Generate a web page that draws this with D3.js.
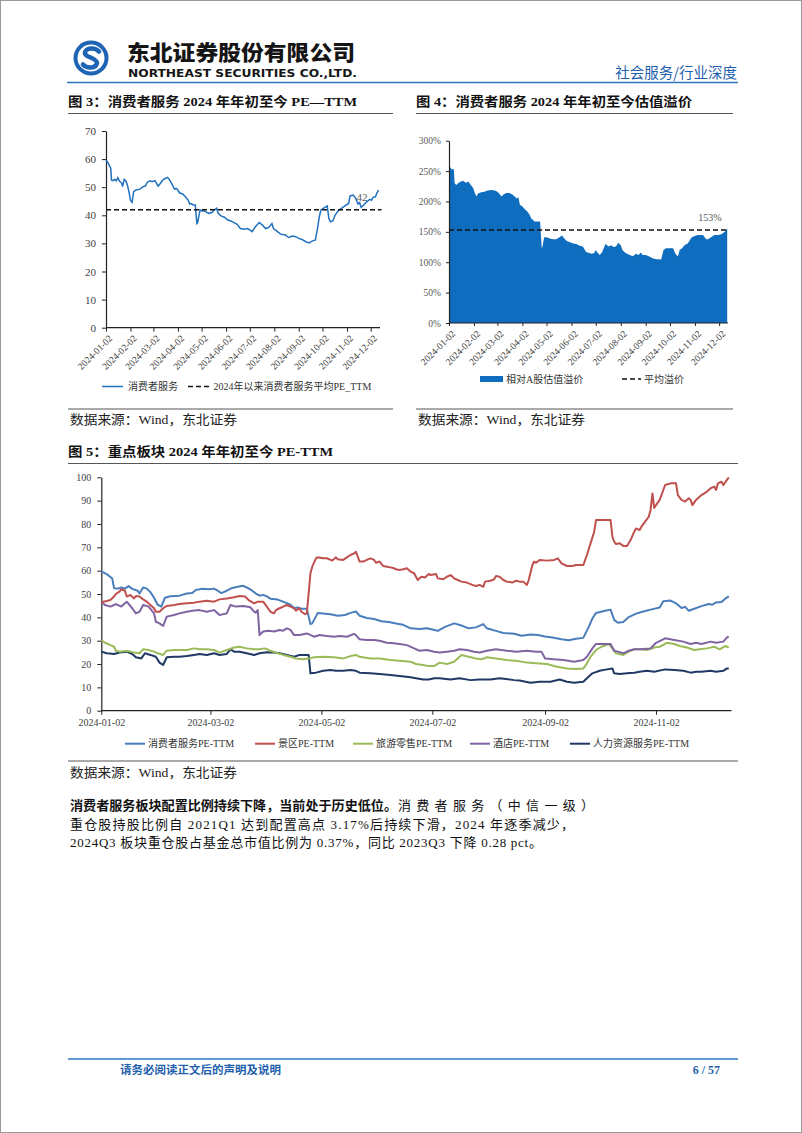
<!DOCTYPE html>
<html><head><meta charset="utf-8">
<script src="https://cdn.jsdelivr.net/npm/d3@7"></script>
<style>body{margin:0;background:#fff}svg{display:block}</style>
</head><body>
<svg id="page" width="802" height="1133"></svg>
<script>
// ---------------- DATA ----------------
// 消费者服务 PE-TTM (图3, 图5 蓝线)
const consumerPE = [["2024-01-02",59.7],["2024-01-05",58.5],["2024-01-07",57.3],["2024-01-08",56.7],["2024-01-09",52.5],["2024-01-11",52.3],["2024-01-13",52.8],["2024-01-15",52.3],["2024-01-17",53.4],["2024-01-19",52.2],["2024-01-22",51.4],["2024-01-23",50.2],["2024-01-25",52.8],["2024-01-27",52.3],["2024-01-29",50.8],["2024-01-31",48.4],["2024-02-02",45.4],["2024-02-04",44.6],["2024-02-06",48.4],["2024-02-09",49.0],["2024-02-14",49.3],["2024-02-18",50.2],["2024-02-21",50.4],["2024-02-23",51.7],["2024-02-26",52.2],["2024-03-01",52.0],["2024-03-04",52.3],["2024-03-06",51.4],["2024-03-08",50.4],["2024-03-11",51.4],["2024-03-14",52.6],["2024-03-17",53.1],["2024-03-20",53.5],["2024-03-22",52.8],["2024-03-25",51.4],["2024-03-27",50.2],["2024-03-29",49.3],["2024-03-31",49.6],["2024-04-02",49.0],["2024-04-04",48.0],["2024-04-08",47.6],["2024-04-12",46.4],["2024-04-15",45.4],["2024-04-17",44.0],["2024-04-19",44.2],["2024-04-21",43.7],["2024-04-24",43.7],["2024-04-26",37.1],["2024-04-27",37.4],["2024-04-30",41.9],["2024-05-03",41.6],["2024-05-07",41.3],["2024-05-11",40.7],["2024-05-15",41.0],["2024-05-18",41.9],["2024-05-21",42.5],["2024-05-23",40.7],["2024-05-27",39.7],["2024-05-31",39.3],["2024-06-04",38.3],["2024-06-08",38.0],["2024-06-12",37.4],["2024-06-16",36.8],["2024-06-20",35.3],["2024-06-25",35.0],["2024-06-29",35.3],["2024-07-02",34.8],["2024-07-05",34.2],["2024-07-09",35.9],["2024-07-14",37.4],["2024-07-18",36.5],["2024-07-22",35.3],["2024-07-26",35.7],["2024-07-30",37.1],["2024-08-01",35.3],["2024-08-06",34.2],["2024-08-10",33.3],["2024-08-16",33.0],["2024-08-20",32.1],["2024-08-25",32.6],["2024-08-29",32.4],["2024-09-02",31.8],["2024-09-06",31.4],["2024-09-11",30.6],["2024-09-15",30.2],["2024-09-19",30.8],["2024-09-23",31.2],["2024-09-26",35.9],["2024-09-28",39.5],["2024-09-30",41.9],["2024-10-05",42.8],["2024-10-08",43.3],["2024-10-10",38.9],["2024-10-12",37.7],["2024-10-15",38.0],["2024-10-18",40.1],["2024-10-22",41.6],["2024-10-26",42.5],["2024-10-30",43.3],["2024-11-04",44.2],["2024-11-06",46.9],["2024-11-10",47.2],["2024-11-13",46.0],["2024-11-16",44.0],["2024-11-18",44.5],["2024-11-20",42.8],["2024-11-23",43.7],["2024-11-27",44.8],["2024-12-01",45.7],["2024-12-03",45.4],["2024-12-05",46.4],["2024-12-08",46.6],["2024-12-10",48.0],["2024-12-12",49.0]];
const consumerAvgPE = 42;

// 相对A股估值溢价 (图4), %
const premium = [["2024-01-02",257],["2024-01-04",256],["2024-01-05",253],["2024-01-08",253],["2024-01-09",230],["2024-01-11",227],["2024-01-14",231],["2024-01-17",233],["2024-01-19",234],["2024-01-23",231],["2024-01-26",233],["2024-01-29",227],["2024-02-01",222],["2024-02-03",214],["2024-02-05",208],["2024-02-07",213],["2024-02-11",215],["2024-02-15",216],["2024-02-19",218],["2024-02-23",219],["2024-02-28",218],["2024-03-02",216],["2024-03-05",212],["2024-03-07",208],["2024-03-10",212],["2024-03-13",214],["2024-03-17",214],["2024-03-21",211],["2024-03-26",205],["2024-03-28",207],["2024-03-30",194],["2024-04-01",193],["2024-04-03",190],["2024-04-05",187],["2024-04-07",185],["2024-04-09",182],["2024-04-11",178],["2024-04-13",172],["2024-04-15",170],["2024-04-17",167],["2024-04-21",167],["2024-04-24",167],["2024-04-26",123],["2024-04-27",126],["2024-04-29",141],["2024-05-02",141],["2024-05-06",139],["2024-05-10",138],["2024-05-14",138],["2024-05-19",142],["2024-05-21",144],["2024-05-24",139],["2024-05-27",135],["2024-05-31",133],["2024-06-04",131],["2024-06-08",130],["2024-06-12",127],["2024-06-16",126],["2024-06-20",117],["2024-06-24",115],["2024-06-27",114],["2024-06-30",115],["2024-07-02",120],["2024-07-04",116],["2024-07-07",112],["2024-07-10",117],["2024-07-14",130],["2024-07-18",126],["2024-07-21",128],["2024-07-24",125],["2024-07-27",126],["2024-07-30",132],["2024-08-02",128],["2024-08-04",120],["2024-08-08",115],["2024-08-13",112],["2024-08-17",110],["2024-08-21",114],["2024-08-24",112],["2024-08-27",116],["2024-08-29",112],["2024-09-02",112],["2024-09-07",109],["2024-09-11",106],["2024-09-15",105],["2024-09-19",105],["2024-09-21",104],["2024-09-24",120],["2024-09-27",123],["2024-10-02",123],["2024-10-06",123],["2024-10-08",116],["2024-10-10",112],["2024-10-12",110],["2024-10-14",120],["2024-10-17",123],["2024-10-20",128],["2024-10-24",131],["2024-10-29",141],["2024-11-02",143],["2024-11-05",145],["2024-11-08",145],["2024-11-12",145],["2024-11-14",141],["2024-11-16",138],["2024-11-18",138],["2024-11-22",141],["2024-11-26",145],["2024-12-01",145],["2024-12-05",146],["2024-12-09",150],["2024-12-12",156]];
const premiumAvg = 153;

// 图5 其他板块
const scenicPE = [["2024-01-02",46.0],["2024-01-03",46.7],["2024-01-05",47.0],["2024-01-07",47.4],["2024-01-09",48.9],["2024-01-10",50.0],["2024-01-12",51.0],["2024-01-13",52.0],["2024-01-15",51.4],["2024-01-16",48.9],["2024-01-18",49.6],["2024-01-20",48.1],["2024-01-21",49.1],["2024-01-23",48.9],["2024-01-25",47.7],["2024-01-27",46.7],["2024-01-29",45.3],["2024-01-31",43.9],["2024-02-01",42.4],["2024-02-03",42.4],["2024-02-05",43.9],["2024-02-07",44.9],["2024-02-11",45.3],["2024-02-14",45.7],["2024-02-18",46.0],["2024-02-22",46.3],["2024-02-25",46.7],["2024-02-29",47.1],["2024-03-04",46.7],["2024-03-07",47.7],["2024-03-11",48.1],["2024-03-15",48.6],["2024-03-18",49.1],["2024-03-21",48.9],["2024-03-23",47.4],["2024-03-26",46.0],["2024-03-28",46.7],["2024-03-31",46.7],["2024-04-02",44.6],["2024-04-04",42.4],["2024-04-06",41.7],["2024-04-07",43.1],["2024-04-09",43.9],["2024-04-11",44.6],["2024-04-13",45.3],["2024-04-15",44.6],["2024-04-17",43.9],["2024-04-18",42.9],["2024-04-20",43.9],["2024-04-21",42.4],["2024-04-23",41.4],["2024-04-24",41.7],["2024-04-26",58.9],["2024-04-27",61.7],["2024-04-29",65.3],["2024-04-30",65.7],["2024-05-03",65.3],["2024-05-05",65.3],["2024-05-08",64.3],["2024-05-10",65.7],["2024-05-11",64.9],["2024-05-14",64.6],["2024-05-16",65.7],["2024-05-18",66.7],["2024-05-20",67.4],["2024-05-21",68.1],["2024-05-23",63.9],["2024-05-25",63.9],["2024-05-27",64.6],["2024-05-29",65.3],["2024-05-31",64.6],["2024-06-01",63.4],["2024-06-03",63.9],["2024-06-05",62.0],["2024-06-07",61.7],["2024-06-09",61.4],["2024-06-11",61.0],["2024-06-12",60.6],["2024-06-14",60.3],["2024-06-16",60.6],["2024-06-18",61.0],["2024-06-20",59.6],["2024-06-22",58.9],["2024-06-23",57.4],["2024-06-24",56.0],["2024-06-26",57.4],["2024-06-28",57.1],["2024-06-30",58.6],["2024-07-01",58.1],["2024-07-04",58.6],["2024-07-05",56.7],["2024-07-08",56.3],["2024-07-10",57.4],["2024-07-12",58.1],["2024-07-14",56.7],["2024-07-16",56.0],["2024-07-18",55.3],["2024-07-21",54.9],["2024-07-24",53.9],["2024-07-26",53.4],["2024-07-28",53.9],["2024-07-30",53.1],["2024-07-31",55.3],["2024-08-03",55.7],["2024-08-05",56.3],["2024-08-06",57.7],["2024-08-08",57.4],["2024-08-10",56.0],["2024-08-12",55.3],["2024-08-15",54.9],["2024-08-17",55.7],["2024-08-19",55.3],["2024-08-21",55.3],["2024-08-23",53.9],["2024-08-24",56.0],["2024-08-26",62.4],["2024-08-27",63.9],["2024-08-28",63.4],["2024-08-30",64.6],["2024-09-03",64.3],["2024-09-07",64.6],["2024-09-09",65.3],["2024-09-11",63.1],["2024-09-14",62.0],["2024-09-17",62.0],["2024-09-19",62.4],["2024-09-23",62.4],["2024-09-25",66.7],["2024-09-27",71.7],["2024-09-29",76.7],["2024-09-30",81.7],["2024-10-04",81.7],["2024-10-08",81.7],["2024-10-09",74.6],["2024-10-10",72.4],["2024-10-11",71.4],["2024-10-13",71.7],["2024-10-15",70.6],["2024-10-17",70.6],["2024-10-19",73.1],["2024-10-21",76.7],["2024-10-22",78.1],["2024-10-24",77.4],["2024-10-25",78.9],["2024-10-27",81.0],["2024-10-29",83.1],["2024-10-30",86.0],["2024-10-31",93.1],["2024-11-01",86.9],["2024-11-02",88.1],["2024-11-04",90.3],["2024-11-07",96.7],["2024-11-10",97.4],["2024-11-13",97.4],["2024-11-14",92.4],["2024-11-16",90.3],["2024-11-18",89.6],["2024-11-20",91.0],["2024-11-21",90.3],["2024-11-22",88.1],["2024-11-24",90.3],["2024-11-27",92.4],["2024-11-30",93.9],["2024-12-02",95.3],["2024-12-04",96.0],["2024-12-05",94.6],["2024-12-06",97.4],["2024-12-08",98.1],["2024-12-09",96.7],["2024-12-11",98.9],["2024-12-12",100.0]];
const travelRetailPE = [["2024-01-02",30.3],["2024-01-04",29.1],["2024-01-07",28.1],["2024-01-09",27.4],["2024-01-10",25.7],["2024-01-12",25.3],["2024-01-16",25.7],["2024-01-20",24.9],["2024-01-23",24.6],["2024-01-25",26.3],["2024-01-28",26.0],["2024-01-31",25.3],["2024-02-02",24.6],["2024-02-05",23.9],["2024-02-07",25.7],["2024-02-11",26.0],["2024-02-14",26.0],["2024-02-18",26.0],["2024-02-22",26.7],["2024-02-25",26.3],["2024-02-29",26.3],["2024-03-04",26.0],["2024-03-07",24.9],["2024-03-11",26.0],["2024-03-15",27.1],["2024-03-18",27.4],["2024-03-22",26.7],["2024-03-26",26.3],["2024-03-29",26.3],["2024-04-01",26.7],["2024-04-04",25.7],["2024-04-07",24.9],["2024-04-11",23.9],["2024-04-15",23.1],["2024-04-18",22.4],["2024-04-22",22.0],["2024-04-25",22.4],["2024-04-28",22.9],["2024-05-03",23.1],["2024-05-09",22.9],["2024-05-14",22.4],["2024-05-18",23.4],["2024-05-21",23.9],["2024-05-23",23.1],["2024-05-29",22.4],["2024-06-03",22.4],["2024-06-09",21.7],["2024-06-14",21.4],["2024-06-20",21.0],["2024-06-23",20.0],["2024-06-27",19.6],["2024-06-30",19.1],["2024-07-03",19.1],["2024-07-06",20.6],["2024-07-10",20.0],["2024-07-14",21.0],["2024-07-18",23.9],["2024-07-22",23.1],["2024-07-26",22.4],["2024-07-29",22.0],["2024-08-01",22.9],["2024-08-06",22.4],["2024-08-12",21.7],["2024-08-17",21.4],["2024-08-23",20.6],["2024-08-28",20.3],["2024-09-03",20.0],["2024-09-08",18.9],["2024-09-14",18.1],["2024-09-19",17.9],["2024-09-23",18.1],["2024-09-25",20.3],["2024-09-27",23.1],["2024-09-30",26.0],["2024-10-03",27.4],["2024-10-07",28.6],["2024-10-09",26.7],["2024-10-11",24.6],["2024-10-15",23.9],["2024-10-18",25.3],["2024-10-21",26.3],["2024-10-24",26.3],["2024-10-28",26.0],["2024-11-01",27.1],["2024-11-04",27.4],["2024-11-08",29.1],["2024-11-12",28.6],["2024-11-15",27.7],["2024-11-19",27.1],["2024-11-23",26.0],["2024-11-26",26.3],["2024-11-30",26.7],["2024-12-04",27.4],["2024-12-07",26.3],["2024-12-10",27.7],["2024-12-12",27.1]];
const hotelPE = [["2024-01-02",46.7],["2024-01-04",45.3],["2024-01-07",44.6],["2024-01-09",45.3],["2024-01-10",45.7],["2024-01-13",44.6],["2024-01-16",46.7],["2024-01-19",43.9],["2024-01-21",41.7],["2024-01-23",42.4],["2024-01-25",45.3],["2024-01-28",44.6],["2024-01-31",41.7],["2024-02-01",38.1],["2024-02-03",37.4],["2024-02-05",36.3],["2024-02-07",40.3],["2024-02-11",41.0],["2024-02-14",41.7],["2024-02-18",42.4],["2024-02-22",42.9],["2024-02-25",43.1],["2024-02-29",42.4],["2024-03-04",43.1],["2024-03-07",41.0],["2024-03-11",41.7],["2024-03-13",45.3],["2024-03-16",44.6],["2024-03-20",44.9],["2024-03-24",44.3],["2024-03-26",42.4],["2024-03-27",42.0],["2024-03-28",43.1],["2024-03-29",32.4],["2024-03-31",33.9],["2024-04-03",34.3],["2024-04-06",33.9],["2024-04-09",34.6],["2024-04-11",34.3],["2024-04-13",35.3],["2024-04-15",34.6],["2024-04-17",32.4],["2024-04-20",32.4],["2024-04-24",33.1],["2024-04-28",31.7],["2024-05-01",32.4],["2024-05-05",32.0],["2024-05-09",31.7],["2024-05-12",32.0],["2024-05-16",31.7],["2024-05-20",32.9],["2024-05-21",32.4],["2024-05-23",30.6],["2024-05-27",30.3],["2024-05-31",30.3],["2024-06-03",30.0],["2024-06-07",29.1],["2024-06-11",28.9],["2024-06-14",28.6],["2024-06-18",28.1],["2024-06-22",26.7],["2024-06-25",25.7],["2024-06-29",26.0],["2024-07-03",25.3],["2024-07-06",24.9],["2024-07-10",25.3],["2024-07-14",25.7],["2024-07-17",26.3],["2024-07-21",26.0],["2024-07-25",25.3],["2024-07-28",24.9],["2024-08-01",25.7],["2024-08-06",26.3],["2024-08-12",25.7],["2024-08-17",25.3],["2024-08-23",25.7],["2024-08-28",25.3],["2024-08-31",25.3],["2024-09-02",22.4],["2024-09-07",22.0],["2024-09-12",21.7],["2024-09-18",21.0],["2024-09-23",21.7],["2024-09-25",23.1],["2024-09-28",26.7],["2024-09-30",28.6],["2024-10-04",28.6],["2024-10-08",28.6],["2024-10-10",25.7],["2024-10-12",25.3],["2024-10-15",24.6],["2024-10-18",25.7],["2024-10-21",26.3],["2024-10-24",26.3],["2024-10-30",26.7],["2024-11-02",29.1],["2024-11-07",31.0],["2024-11-12",30.3],["2024-11-17",29.6],["2024-11-21",28.6],["2024-11-24",29.1],["2024-11-27",28.6],["2024-12-02",29.6],["2024-12-05",29.1],["2024-12-09",29.6],["2024-12-11",31.4],["2024-12-12",31.7]];
const hrServicePE = [["2024-01-02",25.3],["2024-01-05",24.6],["2024-01-09",24.3],["2024-01-12",24.9],["2024-01-16",25.3],["2024-01-19",24.3],["2024-01-21",22.9],["2024-01-24",22.4],["2024-01-26",24.6],["2024-01-29",23.9],["2024-02-01",23.1],["2024-02-03",20.6],["2024-02-05",19.6],["2024-02-07",22.9],["2024-02-11",23.1],["2024-02-14",23.1],["2024-02-18",23.4],["2024-02-22",23.9],["2024-02-25",24.3],["2024-02-29",23.9],["2024-03-04",24.6],["2024-03-07",23.9],["2024-03-11",24.3],["2024-03-13",26.3],["2024-03-15",25.3],["2024-03-18",25.3],["2024-03-22",24.6],["2024-03-26",23.9],["2024-03-29",24.6],["2024-04-02",25.0],["2024-04-06",24.9],["2024-04-09",24.6],["2024-04-13",23.9],["2024-04-17",23.1],["2024-04-20",23.9],["2024-04-25",23.9],["2024-04-26",16.0],["2024-04-29",16.3],["2024-05-03",17.1],["2024-05-07",17.4],["2024-05-10",17.1],["2024-05-14",17.1],["2024-05-18",17.4],["2024-05-21",17.1],["2024-05-23",16.3],["2024-05-29",16.0],["2024-06-03",15.7],["2024-06-09",15.3],["2024-06-14",14.9],["2024-06-20",14.3],["2024-06-23",13.9],["2024-06-27",13.4],["2024-06-30",13.4],["2024-07-03",13.9],["2024-07-06",13.9],["2024-07-12",13.4],["2024-07-17",13.9],["2024-07-23",13.1],["2024-07-28",13.4],["2024-08-03",13.4],["2024-08-08",13.9],["2024-08-16",13.1],["2024-08-19",12.9],["2024-08-25",12.0],["2024-08-30",12.4],["2024-09-05",12.4],["2024-09-10",13.4],["2024-09-14",12.4],["2024-09-18",12.0],["2024-09-23",12.4],["2024-09-25",13.9],["2024-09-28",16.0],["2024-10-02",17.1],["2024-10-06",17.7],["2024-10-09",18.1],["2024-10-10",16.0],["2024-10-13",15.7],["2024-10-17",16.0],["2024-10-21",16.3],["2024-10-24",16.7],["2024-10-28",17.1],["2024-11-01",16.7],["2024-11-07",17.7],["2024-11-12",17.4],["2024-11-17",17.1],["2024-11-21",16.3],["2024-11-24",16.7],["2024-11-27",16.7],["2024-12-02",17.1],["2024-12-05",16.7],["2024-12-09",17.1],["2024-12-11",18.1],["2024-12-12",18.1]];

const monthTicks = ["2024-01-02","2024-02-02","2024-03-02","2024-04-02","2024-05-02","2024-06-02","2024-07-02","2024-08-02","2024-09-02","2024-10-02","2024-11-02","2024-12-02"];
const biMonthTicks = ["2024-01-02","2024-03-02","2024-05-02","2024-07-02","2024-09-02","2024-11-02"];
const peTicks3 = [0,10,20,30,40,50,60,70];
const premiumTicks = [0,50,100,150,200,250,300];
const peTicks5 = [0,10,20,30,40,50,60,70,80,90,100];
const fig5Names = ["消费者服务PE-TTM","景区PE-TTM","旅游零售PE-TTM","酒店PE-TTM","人力资源服务PE-TTM"];
const fig5Colors = ["#4A7EBB","#C0504D","#9BBB59","#8064A2","#1F3864"];

// ---------------- DRAW ----------------
const parse = d3.timeParse("%Y-%m-%d");
const fmt = d3.timeFormat("%Y-%m-%d");
const svg = d3.select("#page");
const SERIF = "'Liberation Serif','Noto Sans CJK SC',serif";
const CJK = "'Noto Sans CJK SC','Liberation Serif',sans-serif";
const BLUE = "#1F5FAD";

svg.append("rect").attr("x",0.5).attr("y",0.5).attr("width",801).attr("height",1132)
  .attr("fill","#fff").attr("stroke","#9a9a9a");

// header logo
const logo = svg.append("g");
logo.append("circle").attr("cx",91).attr("cy",58).attr("r",17.5).attr("fill","#1E64B4");
logo.append("circle").attr("cx",91).attr("cy",58).attr("r",13.5).attr("fill","#fff");
logo.append("path").attr("d","M99,51.5 C95,47 86,47.5 85,52.5 C84,57 97,58 97,63 C96,68.5 87,69 83,64.5")
  .attr("fill","none").attr("stroke","#1E64B4").attr("stroke-width",4.5).attr("stroke-linecap","round");
svg.append("text").attr("x",127).attr("y",59.5).attr("font-family",CJK).attr("font-weight",900)
  .attr("font-size",21).attr("fill","#151515").attr("textLength",228).attr("lengthAdjust","spacingAndGlyphs")
  .text("东北证券股份有限公司");
svg.append("text").attr("x",128).attr("y",76.5).attr("font-family","'DejaVu Sans',sans-serif").attr("font-weight",700)
  .attr("font-size",10).attr("fill","#151515").attr("textLength",229).attr("lengthAdjust","spacingAndGlyphs")
  .text("NORTHEAST SECURITIES CO.,LTD.");
svg.append("text").attr("x",737).attr("y",78).attr("text-anchor","end").attr("font-family",CJK)
  .attr("font-size",14.5).attr("fill",BLUE).text("社会服务/行业深度");
svg.append("line").attr("x1",67).attr("x2",738).attr("y1",82.5).attr("y2",82.5).attr("stroke","#2E75C0").attr("stroke-width",1.6);

// titles
function title(x, y, w, txt, lineEnd){
  svg.append("text").attr("x",x).attr("y",y).attr("font-family",SERIF).attr("font-weight",700)
    .attr("font-size",13).attr("fill","#111").attr("textLength",w).attr("lengthAdjust","spacingAndGlyphs").text(txt);
  svg.append("line").attr("x1",x).attr("x2",lineEnd).attr("y1",y+7.5).attr("y2",y+7.5).attr("stroke","#555").attr("stroke-width",1);
}
title(68,106,289,"图 3：消费者服务 2024 年年初至今 PE—TTM",393);
title(416,106,276,"图 4：消费者服务 2024 年年初至今估值溢价",733);
title(68,456,265,"图 5：重点板块 2024 年年初至今 PE-TTM",738);

function sourceLine(x, y, x2, yl){
  svg.append("line").attr("x1",x).attr("x2",x2).attr("y1",yl).attr("y2",yl).attr("stroke","#555").attr("stroke-width",1);
  svg.append("text").attr("x",x+2).attr("y",y).attr("font-family",SERIF).attr("font-size",13).attr("fill","#222")
    .attr("textLength",167).attr("lengthAdjust","spacingAndGlyphs").text("数据来源：Wind，东北证券");
}
sourceLine(68,424,393,409);
sourceLine(416,424,733,409);
sourceLine(68,777,738,761);

function styleAxis(g, color){
  g.select(".domain").attr("stroke","#222").attr("stroke-width",1.2);
  g.selectAll(".tick line").attr("stroke","#222");
  g.selectAll("text").attr("font-family",SERIF).attr("fill",color);
}

// ---------- Figure 3 ----------
{
  const x = d3.scaleTime().domain([parse("2024-01-02"), parse("2024-12-12")]).range([106, 378.6]);
  const y = d3.scaleLinear().domain([0,70]).range([327.7,131]);
  const gy = svg.append("g").attr("transform","translate(106,0)")
    .call(d3.axisLeft(y).tickValues(peTicks3).tickSize(4).tickSizeOuter(0).tickPadding(6));
  styleAxis(gy,"#404040"); gy.selectAll("text").attr("font-size",11);
  const gx = svg.append("g").attr("transform","translate(0,327.7)")
    .call(d3.axisBottom(x).tickValues(monthTicks.map(parse)).tickFormat(fmt).tickSize(4).tickSizeOuter(0));
  styleAxis(gx,"#404040");
  gx.select(".domain").attr("d","M106,0H380");
  gx.selectAll("text").attr("font-size",9.5).attr("text-anchor","end")
    .attr("transform","translate(2,4) rotate(-45)").attr("dy","0.35em").attr("y",5).attr("x",-2);
  svg.append("path").datum(consumerPE).attr("fill","none").attr("stroke","#2171BF").attr("stroke-width",1.5)
    .attr("d", d3.line().x(d=>x(parse(d[0]))).y(d=>y(d[1])));
  svg.append("line").attr("x1",106).attr("x2",381.5).attr("y1",y(consumerAvgPE)).attr("y2",y(consumerAvgPE))
    .attr("stroke","#111").attr("stroke-width",1.6).attr("stroke-dasharray","5,3");
  svg.append("text").attr("x",362).attr("y",200.5).attr("text-anchor","middle").attr("font-family",SERIF)
    .attr("font-size",11).attr("fill","#595959").text(consumerAvgPE);
  // legend
  const ly = 386.5;
  svg.append("line").attr("x1",102).attr("x2",123).attr("y1",ly).attr("y2",ly).attr("stroke","#2171BF").attr("stroke-width",1.5);
  svg.append("text").attr("x",128).attr("y",ly+3.5).attr("font-family",SERIF).attr("font-size",10).attr("fill","#333").text("消费者服务");
  svg.append("line").attr("x1",188).attr("x2",211.5).attr("y1",ly).attr("y2",ly).attr("stroke","#111").attr("stroke-width",1.6).attr("stroke-dasharray","5,3");
  svg.append("text").attr("x",213.5).attr("y",ly+3.5).attr("font-family",SERIF).attr("font-size",10).attr("fill","#333").text("2024年以来消费者服务平均PE_TTM");
}

// ---------- Figure 4 ----------
{
  const x = d3.scaleTime().domain([parse("2024-01-02"), parse("2024-12-12")]).range([449, 727.2]);
  const y = d3.scaleLinear().domain([0,300]).range([323,140.7]);
  svg.append("path").datum(premium).attr("fill","#0E6DBE")
    .attr("d", d3.area().x(d=>x(parse(d[0]))).y0(y(0)).y1(d=>y(d[1])));
  const gy = svg.append("g").attr("transform","translate(449,0)")
    .call(d3.axisLeft(y).tickValues(premiumTicks).tickFormat(d=>d+"%").tickSize(3).tickSizeOuter(0).tickPadding(5));
  styleAxis(gy,"#595959"); gy.selectAll("text").attr("font-size",9.5);
  const gx = svg.append("g").attr("transform","translate(0,323)")
    .call(d3.axisBottom(x).tickValues(monthTicks.map(parse)).tickFormat(fmt).tickSize(3).tickSizeOuter(0));
  styleAxis(gx,"#404040");
  gx.select(".domain").attr("d","M449,0H728");
  gx.selectAll("text").attr("font-size",9.5).attr("text-anchor","end")
    .attr("transform","translate(2,4) rotate(-45)").attr("dy","0.35em").attr("y",5).attr("x",-2);
  svg.append("line").attr("x1",449).attr("x2",728).attr("y1",y(premiumAvg)).attr("y2",y(premiumAvg))
    .attr("stroke","#111").attr("stroke-width",1.6).attr("stroke-dasharray","5,3");
  svg.append("text").attr("x",710).attr("y",221).attr("text-anchor","middle").attr("font-family",SERIF)
    .attr("font-size",10).attr("fill","#595959").text(premiumAvg+"%");
  const ly = 379;
  svg.append("rect").attr("x",480).attr("y",ly-3).attr("width",23).attr("height",6).attr("fill","#0E6DBE");
  svg.append("text").attr("x",506).attr("y",ly+3.5).attr("font-family",SERIF).attr("font-size",10).attr("fill","#333").text("相对A股估值溢价");
  svg.append("line").attr("x1",622).attr("x2",641).attr("y1",ly).attr("y2",ly).attr("stroke","#111").attr("stroke-width",1.6).attr("stroke-dasharray","5,3");
  svg.append("text").attr("x",644).attr("y",ly+3.5).attr("font-family",SERIF).attr("font-size",10).attr("fill","#333").text("平均溢价");
}

// ---------- Figure 5 ----------
{
  const x = d3.scaleTime().domain([parse("2024-01-02"), parse("2024-12-12")]).range([101.3, 728.8]);
  const y = d3.scaleLinear().domain([0,100]).range([710.7,477.3]);
  const gy = svg.append("g").attr("transform","translate(101.3,0)")
    .call(d3.axisLeft(y).tickValues(peTicks5).tickSize(4).tickSizeOuter(0).tickPadding(6));
  styleAxis(gy,"#404040"); gy.selectAll("text").attr("font-size",10);
  const gx = svg.append("g").attr("transform","translate(0,710.7)")
    .call(d3.axisBottom(x).tickValues(biMonthTicks.map(parse)).tickFormat(fmt).tickSize(4).tickSizeOuter(0).tickPadding(4));
  styleAxis(gx,"#404040"); gx.selectAll("text").attr("font-size",10);
  gx.select(".domain").attr("d","M101.3,0H731.5");
  const series = [consumerPE, scenicPE, travelRetailPE, hotelPE, hrServicePE];
  const line = d3.line().x(d=>x(parse(d[0]))).y(d=>y(d[1]));
  const order = [4,2,3,0,1];
  order.forEach(i=>{
    svg.append("path").datum(series[i]).attr("fill","none").attr("stroke",fig5Colors[i])
      .attr("stroke-width",2).attr("stroke-linejoin","round").attr("d",line);
  });
  const lx = [125,255,353,470,570];
  const ly = 743.7;
  fig5Names.forEach((n,i)=>{
    svg.append("line").attr("x1",lx[i]).attr("x2",lx[i]+20).attr("y1",ly).attr("y2",ly).attr("stroke",fig5Colors[i]).attr("stroke-width",2);
    svg.append("text").attr("x",lx[i]+23).attr("y",ly+3.5).attr("font-family",SERIF).attr("font-size",10).attr("fill","#333").text(n);
  });
}

// ---------- paragraph ----------
{
  const fs = 13;
  svg.append("text").attr("x",70).attr("y",810).attr("font-family",SERIF).attr("font-weight",700).attr("font-size",fs)
    .attr("fill","#111").attr("textLength",327).attr("lengthAdjust","spacingAndGlyphs").text("消费者服务板块配置比例持续下降，当前处于历史低位。");
  svg.append("text").attr("x",398).attr("y",810).attr("font-family",SERIF).attr("font-size",fs)
    .attr("fill","#111").attr("textLength",196).attr("lengthAdjust","spacing").text("消费者服务（中信一级）");
  svg.append("text").attr("x",70).attr("y",828.5).attr("font-family",SERIF).attr("font-size",fs)
    .attr("fill","#111").attr("textLength",504).attr("lengthAdjust","spacing").text("重仓股持股比例自 2021Q1 达到配置高点 3.17%后持续下滑，2024 年逐季减少，");
  svg.append("text").attr("x",70).attr("y",847).attr("font-family",SERIF).attr("font-size",fs)
    .attr("fill","#111").attr("textLength",472).attr("lengthAdjust","spacing").text("2024Q3 板块重仓股占基金总市值比例为 0.37%，同比 2023Q3 下降 0.28 pct。");
}

// ---------- footer ----------
svg.append("line").attr("x1",68).attr("x2",738).attr("y1",1059).attr("y2",1059).attr("stroke","#2E75C0").attr("stroke-width",1.6);
svg.append("text").attr("x",120).attr("y",1074).attr("font-family",CJK).attr("font-weight",700).attr("font-size",11.5)
  .attr("fill",BLUE).text("请务必阅读正文后的声明及说明");
svg.append("text").attr("x",720).attr("y",1074).attr("text-anchor","end").attr("font-family",SERIF).attr("font-weight",700)
  .attr("font-size",12).attr("fill",BLUE).text("6 / 57");
</script>
</body></html>
